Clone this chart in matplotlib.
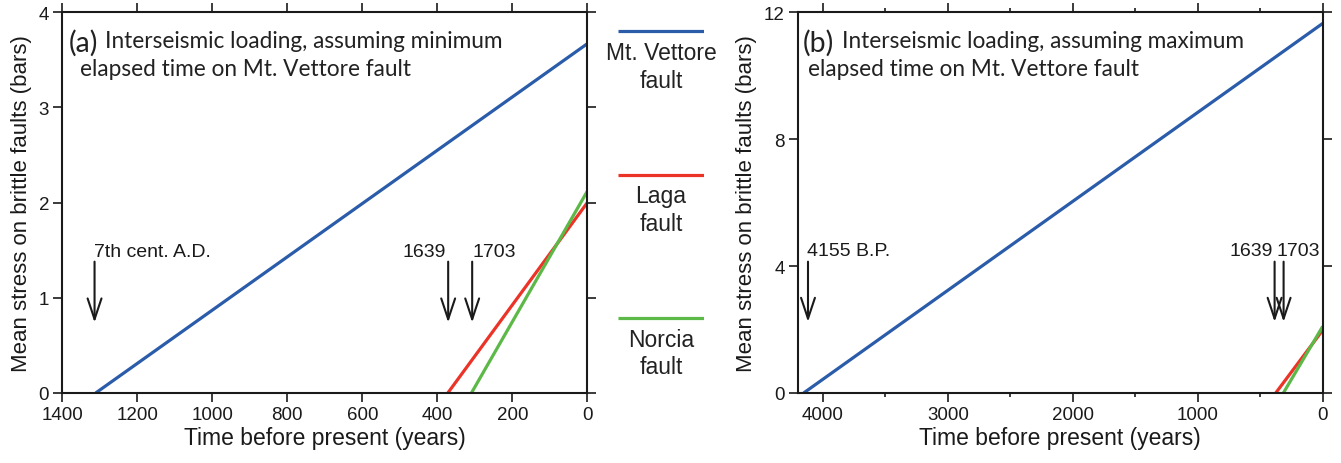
import matplotlib
matplotlib.use("Agg")
import matplotlib.pyplot as plt
from matplotlib.ticker import MultipleLocator

# data
fault_names = ["Mt. Vettore\nfault", "Laga\nfault", "Norcia\nfault"]
fault_colors = ["#2a5caa", "#ec3327", "#5cb947"]

# (a) minimum elapsed time on Mt. Vettore
time_a = [[1311, 0], [372, 0], [309, 0]]
stress_a = [[0, 3.67], [0, 2.0], [0, 2.12]]
events_a = ["7th cent. A.D.", "1639", "1703"]
event_years_a = [1314, 371, 307]

# (b) maximum elapsed time on Mt. Vettore
time_b = [[4155, 0], [376, 0], [315, 0]]
stress_b = [[0, 11.65], [0, 1.98], [0, 2.1]]
events_b = ["4155 B.P.", "1639", "1703"]
event_years_b = [4120, 385, 313]

W, H = 1341, 464
fig = plt.figure(figsize=(W / 100, H / 100), dpi=100)
plt.rcParams['font.family'] = ['Liberation Sans', 'DejaVu Sans']

title_font = 'Lato'
ink = '#1a1a1a'

def style_axes(ax):
    for s in ax.spines.values():
        s.set_linewidth(1.5)
        s.set_color(ink)
    ax.tick_params(which='both', direction='out', top=True, right=True,
                   width=1.2, labelsize=13.5, pad=3, color=ink, labelcolor=ink)
    ax.tick_params(which='major', length=6.5)
    ax.tick_params(which='minor', length=3)
    ax.set_xlabel("Time before present (years)", fontsize=16.5, labelpad=2, color=ink)
    ax.set_ylabel("Mean stress on brittle faults (bars)", fontsize=16, labelpad=5, color=ink)

def add_events(ax, names, years, y_text, y_tail, y_tip, aligns, offsets):
    for name, yr, ha, off in zip(names, years, aligns, offsets):
        ax.annotate('', xy=(yr, y_tip), xytext=(yr, y_tail),
                    arrowprops=dict(arrowstyle='->,head_length=0.75,head_width=0.25',
                                    mutation_scale=20, lw=1.5, color=ink,
                                    shrinkA=0, shrinkB=0))
        ax.annotate(name, xy=(yr, y_text), xytext=(off, 0), textcoords='offset points',
                    ha=ha, va='center', fontsize=14, color=ink)

def add_title(ax, tag, line1, line2, x_tag, x1, x2):
    ax.text(x_tag, 0.922, tag, transform=ax.transAxes, fontsize=20.5,
            family=title_font, va='center', ha='left', color='#222222')
    ax.text(x1, 0.925, line1, transform=ax.transAxes, fontsize=16.3,
            family=title_font, va='center', ha='left', color='#222222')
    ax.text(x2, 0.853, line2, transform=ax.transAxes, fontsize=16.3,
            family=title_font, va='center', ha='left', color='#222222')

bottom = (H - 394) / H
height = (394 - 13.3) / H

# panel (a)
ax1 = fig.add_axes([62.3 / W, bottom, 525 / W, height])
for t, s, c in zip(time_a, stress_a, fault_colors):
    ax1.plot(t, s, color=c, lw=2.3, solid_capstyle='butt')
ax1.set_xlim(1400, 0)
ax1.set_ylim(0, 4)
ax1.xaxis.set_major_locator(MultipleLocator(200))
ax1.yaxis.set_major_locator(MultipleLocator(1))
style_axes(ax1)
add_events(ax1, events_a, event_years_a, 1.49, 1.38, 0.74,
           ['left', 'right', 'left'], [-0.5, -1.5, 0.5])
add_title(ax1, "(a)", "Interseismic loading, assuming minimum",
          "elapsed time on Mt. Vettore fault", 0.0114, 0.081, 0.0337)

# panel (b)
ax2 = fig.add_axes([798 / W, bottom, (1322.7 - 798) / W, height])
for t, s, c in zip(time_b, stress_b, fault_colors):
    ax2.plot(t, s, color=c, lw=2.3, solid_capstyle='butt')
ax2.set_xlim(4200, 0)
ax2.set_ylim(0, 12)
ax2.xaxis.set_major_locator(MultipleLocator(1000))
ax2.xaxis.set_minor_locator(MultipleLocator(500))
ax2.yaxis.set_major_locator(MultipleLocator(4))
style_axes(ax2)
add_events(ax2, events_b, event_years_b, 4.5, 4.14, 2.24,
           ['left', 'right', 'left'], [-1, -1, -5])
add_title(ax2, "(b)", "Interseismic loading, assuming maximum",
          "elapsed time on Mt. Vettore fault", 0.0095, 0.083, 0.019)

# legend column between the panels
axl = fig.add_axes([618 / W, 0, (704 - 618) / W, 1])
axl.set_xlim(0, 1)
axl.set_ylim(H, 0)
axl.axis('off')
for i, (name, c) in enumerate(zip(fault_names, fault_colors)):
    y0 = 32.3 + i * 143.3
    axl.plot([0, 1], [y0, y0], color=c, lw=2.3, solid_capstyle='butt')
    axl.text(0.5, y0 + 35, name, ha='center', va='center', fontsize=16.5,
             linespacing=1.25, color='#222222')

fig.savefig("out.png", dpi=100)
